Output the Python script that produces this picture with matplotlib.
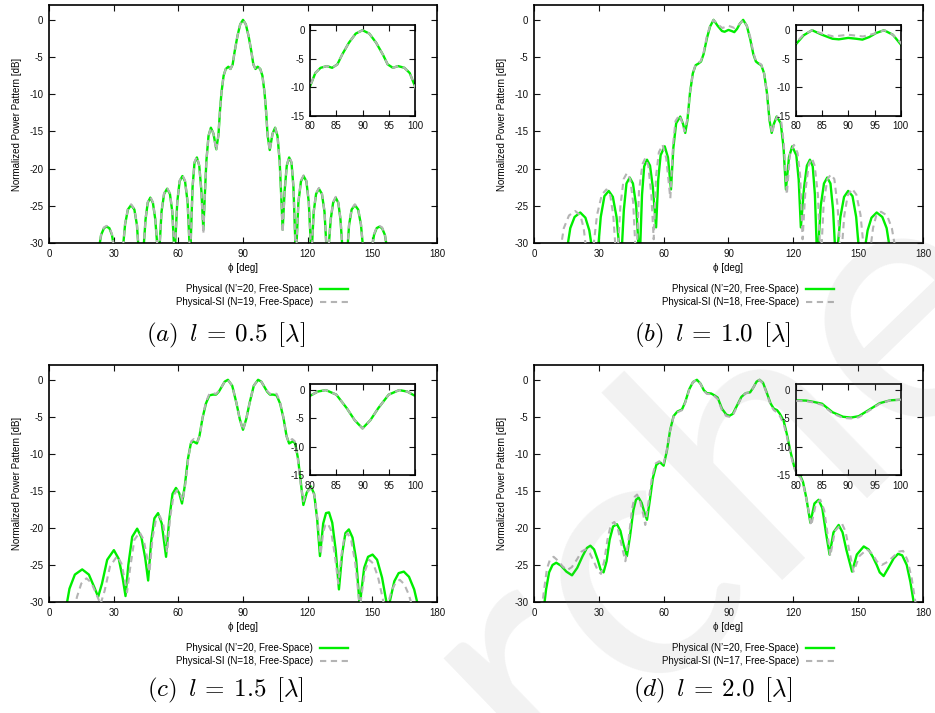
import matplotlib.pyplot as plt

plt.rcParams['font.family'] = ['Liberation Sans', 'DejaVu Sans']
plt.rcParams['mathtext.fontset'] = 'cm'
plt.rcParams['axes.unicode_minus'] = False

# (phi [deg], normalized power [dB]) read along each pattern
phys_a = [(23.0,-31),(24.2,-28.9),(25.5,-28.0),(26.7,-27.8),(28.0,-28.0),(29.2,-28.9),(30.4,-31),
          (34.2,-31),(35.3,-27.5),(36.6,-25.5),(38.1,-24.9),(39.6,-25.5),(40.8,-27.6),(41.6,-31),
          (43.8,-31),(44.8,-26.8),(45.8,-24.6),(47.0,-23.9),(48.2,-24.6),(49.3,-26.8),(50.4,-31),
          (51.2,-31),(52.2,-25.8),(53.4,-23.4),(54.8,-22.7),(56.1,-23.4),(57.2,-25.8),(58.1,-31),
          (58.4,-31),(59.5,-24.5),(60.6,-21.7),(61.9,-21.0),(63.1,-21.7),(64.3,-24.5),(65.3,-31),
          (65.6,-31),(66.6,-22.5),(67.5,-19.2),(68.6,-18.5),(69.7,-19.6),(70.7,-23.0),(71.6,-28.2),
          (72.3,-23.5),(73.0,-19.0),(74.0,-15.6),(75.1,-14.5),(76.3,-15.3),(77.6,-17.4),(78.6,-15.5),
          (79.3,-12.3),(80.0,-9.8),(81.0,-7.5),(82.0,-6.6),(83.2,-6.3),(84.2,-6.6),(85.2,-6.0),
          (86.1,-4.3),(87.4,-2.2),(88.7,-0.6),(90.0,0.0),(91.3,-0.6),(92.6,-2.2),(93.9,-4.3),
          (94.8,-6.0),(95.8,-6.6),(96.8,-6.3),(98.0,-6.6),(99.0,-7.5),(100.0,-9.8),(100.7,-12.3),
          (101.4,-15.5),(102.4,-17.5),(103.7,-15.3),(104.9,-14.5),(106.0,-15.6),(107.0,-19.0),
          (107.7,-23.5),(108.4,-28.2),(109.3,-23.0),(110.3,-19.6),(111.4,-18.5),(112.5,-19.2),
          (113.4,-22.5),(114.4,-31),
          (114.7,-31),(115.7,-24.5),(116.9,-21.7),(118.1,-21.0),(119.4,-21.7),(120.5,-24.5),(121.6,-31),
          (121.9,-31),(122.8,-25.8),(123.9,-23.4),(125.2,-22.7),(126.6,-23.4),(127.8,-25.8),(128.8,-31),
          (129.6,-31),(130.7,-26.8),(131.8,-24.6),(133.0,-23.9),(134.2,-24.6),(135.2,-26.8),(136.2,-31),
          (138.4,-31),(139.2,-27.6),(140.4,-25.5),(141.9,-24.9),(143.4,-25.5),(144.7,-27.5),(145.8,-31),
          (149.6,-31),(150.8,-28.9),(152.0,-28.0),(153.3,-27.8),(154.5,-28.0),(155.8,-28.9),(157.0,-31)]

si_a = [(23.0,-31),(24.2,-28.8),(25.5,-27.9),(26.7,-27.7),(28.0,-27.9),(29.2,-28.8),(30.4,-31),
        (34.2,-31),(35.3,-27.4),(36.6,-25.4),(38.1,-24.8),(39.6,-25.4),(40.8,-27.5),(41.6,-31),
        (43.8,-31),(44.8,-26.7),(45.8,-24.5),(47.0,-23.8),(48.2,-24.5),(49.3,-26.7),(50.4,-31),
        (51.2,-31),(52.2,-25.7),(53.4,-23.3),(54.8,-22.6),(56.1,-23.3),(57.2,-25.7),(58.1,-31),
        (58.4,-31),(59.5,-24.4),(60.6,-21.6),(61.9,-20.9),(63.1,-21.6),(64.3,-24.4),(65.3,-31),
        (65.6,-31),(66.6,-22.5),(67.5,-19.1),(68.6,-18.4),(69.7,-19.6),(70.7,-23.2),(71.6,-28.8),
        (72.3,-23.6),(73.0,-19.0),(74.0,-15.6),(75.1,-14.5),(76.3,-15.3),(77.6,-17.6),(78.6,-15.5),
        (79.3,-12.3),(80.0,-9.8),(81.0,-7.5),(82.0,-6.6),(83.2,-6.3),(84.2,-6.6),(85.2,-6.0),
        (86.1,-4.3),(87.4,-2.2),(88.7,-0.6),(90.0,0.0),(91.3,-0.6),(92.6,-2.2),(93.9,-4.3),
        (94.8,-6.0),(95.8,-6.6),(96.8,-6.3),(98.0,-6.6),(99.0,-7.5),(100.0,-9.8),(100.7,-12.3),
        (101.4,-15.5),(102.4,-17.6),(103.7,-15.3),(104.9,-14.5),(106.0,-15.6),(107.0,-19.0),
        (107.7,-23.6),(108.4,-28.6),(109.3,-23.2),(110.3,-19.6),(111.4,-18.4),(112.5,-19.1),
        (113.4,-22.5),(114.4,-31),
        (114.7,-31),(115.7,-24.4),(116.9,-21.6),(118.1,-20.9),(119.4,-21.6),(120.5,-24.4),(121.6,-31),
        (121.9,-31),(122.8,-25.7),(123.9,-23.3),(125.2,-22.6),(126.6,-23.3),(127.8,-25.7),(128.8,-31),
        (129.6,-31),(130.7,-26.7),(131.8,-24.5),(133.0,-23.8),(134.2,-24.5),(135.2,-26.7),(136.2,-31),
        (138.4,-31),(139.2,-27.5),(140.4,-25.4),(141.9,-24.8),(143.4,-25.4),(144.7,-27.4),(145.8,-31),
        (149.6,-31),(150.8,-28.8),(152.0,-27.9),(153.3,-27.7),(154.5,-27.9),(155.8,-28.8),(157.0,-31)]

phys_b = [(15.2,-31),(16.8,-28.0),(18.8,-26.5),(21.4,-25.9),(23.8,-26.6),(25.6,-28.3),(27.0,-31),
          (29.6,-31),(30.9,-26.5),(32.6,-23.7),(34.6,-23.0),(36.5,-23.8),(38.2,-26.5),(39.6,-31),
          (40.6,-31),(41.6,-25.5),(42.8,-22.0),(44.3,-21.2),(45.8,-22.0),(47.3,-25.0),(48.5,-31),
          (49.1,-31),(50.0,-23.5),(51.0,-19.7),(52.3,-18.8),(53.7,-19.6),(55.0,-22.5),(56.5,-27.9),
          (57.5,-21.5),(58.6,-18.2),(60.5,-17.0),(62.0,-18.5),(63.4,-22.8),
          (64.5,-17.2),(65.8,-13.9),(67.7,-13.0),(69.0,-14.0),(70.0,-15.2),(71.0,-13.5),(72.2,-9.8),
          (73.5,-7.2),(74.8,-6.1),(76.0,-5.9),(77.3,-5.6),(78.5,-4.6),(80.0,-2.5),(81.5,-0.9),
          (83.1,0.0),(85.0,-0.8),(87.0,-1.5),(88.2,-1.6),(90.0,-1.35),(91.5,-1.5),(92.7,-1.65),
          (94.0,-1.2),(95.3,-0.5),(96.8,0.0),(98.5,-0.8),(100.0,-2.5),(101.5,-4.6),(102.7,-5.6),
          (104.0,-5.9),(105.2,-6.1),(106.5,-7.2),(107.8,-9.8),(109.0,-13.5),(110.0,-15.2),
          (111.0,-14.0),(112.3,-13.0),(114.2,-13.9),(115.5,-17.2),(116.6,-22.8),
          (118.0,-18.5),(119.5,-17.0),(121.4,-18.2),(122.5,-21.5),(123.5,-27.9),
          (125.0,-22.5),(126.3,-19.6),(127.7,-18.8),(129.0,-19.7),(130.0,-23.5),(130.9,-31),
          (131.5,-31),(132.7,-25.0),(134.2,-22.0),(135.7,-21.2),(137.2,-22.0),(138.4,-25.5),(139.4,-31),
          (140.4,-31),(141.8,-26.5),(143.5,-23.8),(145.4,-23.0),(147.4,-23.7),(149.1,-26.5),(150.4,-31),
          (153.0,-31),(154.4,-28.3),(156.2,-26.6),(158.6,-25.9),(161.2,-26.5),(163.2,-28.0),(164.8,-31)]

si_b = [(12.2,-31),(13.8,-28.0),(16.2,-26.3),(19.1,-25.7),(21.5,-26.3),(23.0,-28.0),(24.2,-31),
        (27.3,-31),(29.2,-26.2),(31.4,-23.5),(33.5,-22.8),(35.3,-23.6),(36.7,-26.3),(37.8,-31),
        (38.8,-31),(40.0,-25.0),(41.5,-21.4),(43.0,-20.6),(44.5,-21.4),(45.9,-24.5),(47.0,-31),
        (47.6,-31),(48.6,-23.0),(50.2,-19.4),(51.5,-18.6),(52.9,-19.6),(54.3,-23.5),(55.4,-29.5),
        (56.5,-21.0),(57.8,-17.8),(59.5,-16.8),(61.2,-18.6),(63.1,-24.0),
        (64.4,-16.6),(65.5,-13.6),(67.3,-12.8),(68.6,-13.8),(69.7,-15.0),(71.0,-13.3),(72.2,-9.8),
        (73.5,-7.2),(74.8,-6.0),(76.0,-5.8),(77.3,-5.5),(78.5,-4.4),(80.0,-2.2),(81.5,-0.8),
        (83.1,0.0),(85.0,-0.6),(87.2,-1.1),(88.5,-0.95),(90.0,-0.8),(91.5,-0.95),(92.8,-1.1),
        (95.0,-0.6),(96.9,0.0),(98.5,-0.8),(100.0,-2.2),(101.5,-4.4),(102.7,-5.5),(104.0,-5.8),
        (105.2,-6.0),(106.5,-7.2),(107.8,-9.8),(109.0,-13.3),(110.2,-15.3),(111.3,-13.8),
        (112.6,-13.0),(114.4,-13.6),(115.6,-16.6),(117.0,-23.5),
        (118.5,-18.0),(120.3,-16.8),(122.0,-17.9),(123.2,-21.0),(124.3,-29.5),
        (125.6,-23.0),(127.2,-19.4),(128.6,-18.6),(129.9,-19.6),(131.4,-23.5),(132.4,-31),
        (133.0,-31),(134.1,-24.5),(135.8,-21.4),(137.4,-20.8),(139.0,-21.4),(140.5,-25.0),(141.7,-31),
        (142.4,-31),(143.6,-26.3),(145.2,-23.6),(147.2,-22.7),(149.2,-23.5),(151.1,-26.2),(152.7,-31),
        (155.6,-31),(156.9,-28.0),(158.4,-26.3),(160.6,-25.8),(163.4,-26.3),(165.6,-28.0),(167.4,-31)]

phys_c = [(7.8,-31),(9.5,-28.2),(12.0,-26.3),(15.4,-25.6),(18.5,-26.3),(21.0,-28.0),(22.8,-29.3),
          (24.6,-27.5),(27.0,-24.3),(30.1,-23.0),(32.4,-24.2),(34.2,-26.8),(35.5,-29.2),
          (36.8,-25.0),(38.6,-21.2),(40.9,-20.1),(42.9,-21.3),(44.6,-24.0),(46.0,-27.1),
          (47.4,-21.8),(48.9,-18.7),(50.6,-18.0),(52.3,-19.4),(54.3,-23.9),
          (55.8,-18.8),(57.3,-15.4),(58.9,-14.6),(60.4,-15.3),(61.7,-16.7),
          (63.0,-14.3),(64.5,-10.6),(65.8,-8.6),(66.8,-8.3),(68.6,-8.6),(69.8,-7.6),(71.2,-5.2),
          (72.8,-3.2),(74.4,-2.1),(76.0,-2.0),(77.5,-2.0),(78.8,-1.6),(80.0,-1.0),(81.5,-0.25),
          (83.0,0.0),(85.0,-0.8),(87.0,-3.2),(88.5,-5.3),(90.0,-6.75),(91.5,-5.3),(93.0,-3.2),
          (95.0,-0.8),(97.0,0.0),(98.5,-0.25),(100.0,-1.0),(101.2,-1.6),(102.5,-2.0),(104.0,-2.0),
          (105.6,-2.1),(107.2,-3.2),(108.8,-5.2),(110.2,-7.6),(111.4,-8.6),(113.2,-8.3),
          (114.2,-8.6),(115.5,-10.6),(117.0,-14.3),(118.0,-16.9),(119.6,-15.2),(121.5,-14.4),
          (123.0,-15.4),(124.4,-18.8),(125.7,-23.8),(127.2,-19.4),(128.5,-18.0),(129.9,-17.9),
          (131.4,-19.3),(133.0,-23.0),(134.5,-28.3),(136.0,-23.5),(137.5,-20.7),(139.1,-20.2),
          (140.8,-21.3),(142.5,-24.3),(143.6,-28.5),(144.2,-31),(144.8,-28.8),(146.2,-25.4),
          (148.0,-23.9),(150.1,-23.6),(152.2,-24.3),(154.5,-26.7),(156.4,-29.8),(157.3,-31),
          (158.2,-29.8),(160.2,-27.2),(162.2,-26.1),(164.6,-25.9),(167.0,-26.6),(169.4,-28.3),
          (171.6,-31)]

si_c = [(11.6,-31),(13.0,-29.3),(15.0,-27.5),(17.4,-26.8),(19.6,-27.4),(21.8,-28.8),(23.9,-30.3),
        (25.8,-28.5),(28.3,-25.2),(31.6,-23.8),(33.6,-24.8),(35.0,-26.8),(36.2,-28.7),
        (37.6,-25.5),(39.6,-21.6),(42.1,-20.6),(43.9,-21.6),(45.4,-23.8),(46.6,-26.0),
        (48.0,-21.4),(49.6,-18.9),(51.4,-18.4),(53.0,-19.5),(54.8,-23.3),
        (56.2,-18.6),(57.8,-15.6),(59.4,-14.9),(60.8,-15.3),(62.0,-16.4),
        (63.3,-14.0),(64.7,-10.4),(66.0,-8.3),(67.2,-8.0),(68.9,-8.4),(70.0,-7.4),(71.3,-5.0),
        (72.8,-3.0),(74.4,-1.9),(76.0,-1.8),(77.5,-1.9),(78.8,-1.5),(80.0,-1.0),(81.5,-0.25),
        (83.0,0.0),(85.0,-0.8),(87.0,-3.2),(88.5,-5.3),(90.0,-6.8),(91.5,-5.3),(93.0,-3.2),
        (95.0,-0.8),(97.0,0.0),(98.5,-0.25),(100.0,-1.0),(101.2,-1.5),(102.5,-1.9),(104.0,-1.8),
        (105.6,-1.9),(107.2,-3.0),(108.7,-5.0),(110.0,-7.4),(111.1,-8.4),(112.8,-8.0),
        (114.0,-8.3),(115.3,-10.4),(116.7,-14.0),(118.0,-16.4),(119.2,-15.3),(121.8,-14.6),
        (123.3,-15.8),(124.6,-19.0),(126.0,-23.6),(127.2,-20.6),(128.2,-19.6),(129.3,-19.4),
        (130.8,-20.3),(132.5,-23.5),(134.2,-27.5),(135.7,-23.6),(137.0,-21.3),(138.5,-20.7),
        (140.2,-21.7),(142.0,-24.6),(143.5,-28.8),(144.2,-31),(145.0,-29.0),(146.6,-25.8),
        (148.5,-24.3),(150.4,-24.8),(152.6,-26.6),(154.8,-29.5),(155.8,-31),(157.0,-30.5),
        (159.0,-28.4),(160.8,-27.4),(162.7,-27.0),(164.8,-27.6),(166.9,-29.0),(168.9,-31)]

phys_d = [(4.5,-31),(5.6,-28.3),(7.0,-26.0),(8.6,-25.0),(10.3,-24.7),(12.5,-25.1),(15.0,-25.9),
          (17.6,-26.4),(20.0,-25.4),(22.5,-23.8),(24.5,-22.7),(26.1,-22.4),(27.8,-22.9),
          (29.5,-24.3),(30.8,-25.6),(32.2,-26.0),(33.6,-24.5),(35.0,-21.6),(36.6,-19.8),
          (38.4,-19.5),(40.0,-20.4),(41.5,-22.3),(43.0,-23.8),(44.4,-21.2),(46.0,-17.6),
          (47.2,-16.2),(48.4,-15.9),(49.8,-16.6),(51.0,-17.8),(52.3,-18.9),(53.6,-16.3),
          (55.0,-13.3),(56.6,-11.5),(58.2,-11.1),(60.0,-11.6),(61.5,-9.6),(63.0,-6.8),(64.6,-4.9),
          (66.3,-4.3),(68.5,-4.0),(70.0,-3.0),(71.8,-1.3),(73.6,-0.3),(75.4,0.0),(77.0,-0.5),
          (78.6,-1.4),(80.0,-1.8),(82.0,-1.85),(83.5,-2.1),(85.0,-2.4),(87.0,-3.9),(89.0,-4.7),
          (90.5,-4.85),(92.0,-4.6),(94.0,-3.45),(96.0,-2.3),(98.0,-1.8),(100.0,-1.7),(101.6,-1.0),
          (103.0,-0.25),(104.4,0.0),(106.0,-0.4),(107.8,-1.8),(109.5,-3.2),(111.0,-3.9),
          (112.5,-4.1),(113.8,-4.6),(115.5,-5.5),(117.0,-7.3),(118.7,-9.7),(120.5,-11.8),
          (122.0,-12.8),(123.3,-13.0),(124.5,-13.8),(126.0,-15.9),(127.9,-19.3),(129.8,-16.7),
          (131.7,-16.2),(133.4,-17.3),(135.2,-20.8),(136.8,-23.6),(138.6,-20.6),(141.0,-19.6),
          (142.8,-20.6),(144.6,-23.0),(147.2,-25.9),(149.4,-23.6),(152.6,-22.5),(154.8,-22.9),
          (156.8,-23.9),(158.6,-25.0),(160.0,-26.0),(161.8,-26.5),(164.0,-25.4),(166.5,-24.1),
          (168.5,-23.5),(170.4,-23.7),(172.5,-25.0),(174.2,-27.3),(175.7,-30.0),(176.2,-31)]

si_d = [(3.6,-31),(4.6,-28.5),(6.0,-25.5),(7.5,-24.2),(9.1,-23.9),(11.0,-24.4),(13.3,-25.2),
        (15.3,-25.7),(17.5,-25.3),(20.0,-24.2),(22.0,-23.2),(23.8,-22.9),(25.8,-23.4),
        (27.8,-24.6),(29.6,-25.8),(31.0,-26.2),(32.5,-24.5),(34.0,-21.6),(35.6,-19.5),
        (37.2,-19.2),(38.8,-20.1),(40.6,-22.4),(42.3,-24.5),(43.8,-21.5),(45.4,-17.4),
        (46.6,-15.8),(47.7,-15.5),(49.0,-16.3),(50.3,-17.8),(51.5,-19.6),(53.0,-16.5),
        (54.6,-13.2),(56.3,-11.3),(58.0,-11.0),(59.8,-11.5),(61.4,-9.6),(63.0,-6.9),(64.6,-5.0),
        (66.3,-4.4),(68.5,-4.1),(70.0,-3.1),(71.8,-1.4),(73.6,-0.3),(75.4,0.0),(77.0,-0.5),
        (78.6,-1.5),(80.0,-1.9),(82.0,-1.95),(83.5,-2.2),(85.0,-2.6),(87.0,-4.1),(89.0,-4.9),
        (90.5,-5.0),(92.0,-4.8),(94.0,-3.6),(96.0,-2.4),(98.0,-1.8),(100.0,-1.7),(101.6,-1.0),
        (103.0,-0.25),(104.4,0.0),(106.0,-0.5),(107.8,-1.9),(109.5,-3.4),(111.0,-4.1),
        (112.5,-4.4),(113.8,-4.9),(115.5,-5.9),(117.0,-7.6),(118.7,-10.0),(120.5,-12.0),
        (122.0,-12.9),(123.3,-13.2),(124.6,-14.1),(126.2,-16.3),(128.3,-19.7),(130.4,-16.8),
        (132.5,-16.2),(134.3,-17.6),(135.8,-20.7),(137.1,-23.8),(139.3,-20.4),(142.5,-19.4),
        (144.2,-20.5),(146.0,-23.2),(147.9,-25.9),(150.6,-23.8),(154.1,-22.9),(156.6,-23.5),
        (158.6,-24.5),(161.0,-25.0),(163.5,-24.6),(166.2,-23.9),(168.8,-23.2),(170.8,-23.1),
        (172.8,-24.3),(174.8,-26.8),(176.5,-30.0),(177.0,-31)]

n_si = [19, 18, 18, 17]
lengths = ['0.5', '1.0', '1.5', '2.0']

GREEN = '#00ee00'
GRAY = '#b4b4b4'
FS = 7


def style(ax, size=FS):
    ax.tick_params(direction='in', top=True, right=True, length=4, width=0.8,
                   labelsize=size, pad=4, colors='#111111')
    for s in ax.spines.values():
        s.set_linewidth(1.2)


def draw(ax, phys, si):
    x1, y1 = zip(*phys)
    x2, y2 = zip(*si)
    l1, = ax.plot(x1, y1, color=GREEN, lw=1.7, zorder=2)
    l2, = ax.plot(x2, y2, color=GRAY, lw=1.5, dashes=(3, 2.2), zorder=3)
    return l1, l2


fig = plt.figure(figsize=(9.35, 7.13), dpi=100)
boxes = [[0.0524, 0.6592, 0.4150, 0.3338], [0.5711, 0.6592, 0.4160, 0.3338],
         [0.0524, 0.1557, 0.4150, 0.3324], [0.5711, 0.1557, 0.4160, 0.3324]]
data = [(phys_a, si_a), (phys_b, si_b), (phys_c, si_c), (phys_d, si_d)]
cap_xy = [(0.241, 0.529), (0.762, 0.529), (0.241, 0.031), (0.762, 0.031)]

for i in range(4):
    ax = fig.add_axes(boxes[i])
    phys, si = data[i]
    l1, l2 = draw(ax, phys, si)
    ax.set_xlim(0, 180)
    ax.set_ylim(-30, 2)
    ax.set_xticks(range(0, 181, 30))
    ax.set_yticks(range(-30, 1, 5))
    ax.set_xlabel('ϕ [deg]', fontsize=FS, labelpad=3)
    ax.set_ylabel('Normalized Power Pattern [dB]', fontsize=FS, labelpad=5)
    style(ax)

    ins = ax.inset_axes([0.673, 0.535, 0.27, 0.383])
    draw(ins, phys, si)
    ins.set_xlim(80, 100)
    ins.set_ylim(-15, 1)
    ins.set_xticks(range(80, 101, 5))
    ins.set_yticks([0, -5, -10, -15])
    style(ins)
    ins.set_facecolor('white')

    x0, y0, w, h = boxes[i]
    fig.legend([l1, l2], ['Physical (N’=20, Free-Space)',
                          'Physical-SI (N=%d, Free-Space)' % n_si[i]],
               loc='upper right', bbox_to_anchor=(x0 + w * 0.771, y0 - 0.058),
               frameon=False, fontsize=FS, markerfirst=False, handlelength=2.9,
               handletextpad=0.7, labelspacing=0.3, borderpad=0, borderaxespad=0)
    cap = r'$(%s)\ \,l\:=\:%s\ \,[\lambda]$' % ('abcd'[i], lengths[i])
    fig.text(cap_xy[i][0], cap_xy[i][1], cap, fontsize=18,
             ha='center', va='center')

# faint diagonal watermark across the lower right
fig.text(0.462, -0.05, 'Researcher', fontsize=255, family='Lato',
         color='#808080', alpha=0.1, rotation=44, ha='center', va='center',
         zorder=10)

fig.savefig('out.png', dpi=100)
